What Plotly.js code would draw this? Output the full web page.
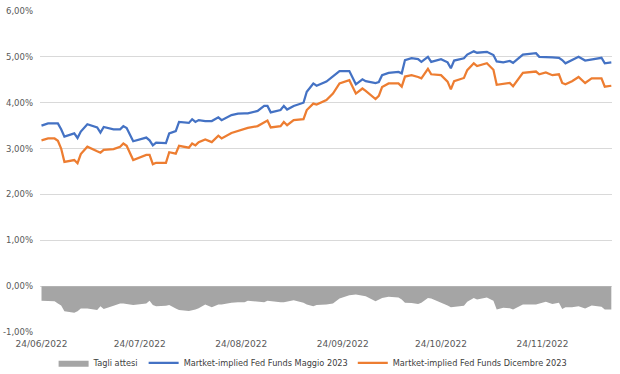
<!DOCTYPE html>
<html>
<head>
<meta charset="utf-8">
<script src="https://cdn.plot.ly/plotly-3.0.1.min.js"></script>
<style>html,body{margin:0;padding:0;background:#fff;}#chart{width:620px;height:374px;}</style>
</head>
<body>
<div id="chart"></div>
<script>
const dates = [
"2022-06-24","2022-06-26","2022-06-28","2022-06-29","2022-06-30","2022-07-01","2022-07-04","2022-07-05","2022-07-06","2022-07-08",
"2022-07-11","2022-07-12","2022-07-13","2022-07-16","2022-07-18","2022-07-19","2022-07-20","2022-07-22","2022-07-26","2022-07-27",
"2022-07-28","2022-07-29","2022-08-01","2022-08-02","2022-08-04","2022-08-05","2022-08-08","2022-08-09","2022-08-10","2022-08-11",
"2022-08-13","2022-08-15","2022-08-17","2022-08-18","2022-08-21","2022-08-23","2022-08-25","2022-08-26","2022-08-29","2022-08-31",
"2022-09-01","2022-09-02","2022-09-05","2022-09-06","2022-09-07","2022-09-09","2022-09-12","2022-09-13","2022-09-15","2022-09-16",
"2022-09-19","2022-09-21","2022-09-23","2022-09-26","2022-09-28","2022-09-30","2022-10-01","2022-10-04","2022-10-05","2022-10-06",
"2022-10-08","2022-10-11","2022-10-12","2022-10-13","2022-10-15","2022-10-17","2022-10-18","2022-10-20","2022-10-21","2022-10-24",
"2022-10-26","2022-10-27","2022-10-28","2022-10-31","2022-11-01","2022-11-03","2022-11-04","2022-11-07","2022-11-09","2022-11-10",
"2022-11-12","2022-11-14","2022-11-15","2022-11-18","2022-11-22","2022-11-23","2022-11-25","2022-11-27","2022-11-29","2022-11-30",
"2022-12-01","2022-12-03","2022-12-05","2022-12-07","2022-12-09","2022-12-12","2022-12-13","2022-12-15"
];
const fedMaggio2023 = [
3.50,3.55,3.55,3.55,3.42,3.26,3.33,3.23,3.37,3.53,
3.46,3.35,3.47,3.42,3.42,3.49,3.45,3.16,3.24,3.18,
3.07,3.13,3.12,3.33,3.38,3.58,3.56,3.64,3.58,3.62,
3.60,3.60,3.68,3.62,3.73,3.76,3.77,3.77,3.82,3.93,
3.93,3.79,3.84,3.93,3.85,3.93,4.00,4.24,4.42,4.37,
4.46,4.58,4.69,4.69,4.40,4.51,4.47,4.43,4.45,4.60,
4.65,4.67,4.64,4.93,4.97,4.95,4.89,5.00,4.89,4.95,
4.88,4.75,4.92,4.97,5.05,5.12,5.09,5.11,5.04,4.90,
4.88,4.91,4.87,5.05,5.08,5.00,5.00,4.99,4.98,4.93,
4.86,4.93,5.00,4.92,4.95,4.98,4.86,4.88
];
const fedDicembre2023 = [
3.18,3.22,3.22,3.17,3.00,2.71,2.75,2.68,2.88,3.04,
2.94,2.91,2.97,2.99,3.04,3.11,3.06,2.75,2.86,2.86,
2.66,2.69,2.69,2.92,2.89,3.06,3.02,3.11,3.07,3.14,
3.20,3.14,3.28,3.22,3.34,3.38,3.42,3.45,3.49,3.58,
3.61,3.46,3.49,3.58,3.51,3.62,3.64,3.84,3.98,3.96,
4.06,4.20,4.42,4.49,4.20,4.31,4.26,4.08,4.15,4.34,
4.42,4.42,4.35,4.57,4.60,4.56,4.53,4.74,4.62,4.60,
4.46,4.29,4.47,4.54,4.71,4.86,4.80,4.86,4.72,4.39,
4.41,4.43,4.36,4.65,4.68,4.62,4.66,4.60,4.62,4.43,
4.40,4.47,4.56,4.43,4.53,4.53,4.35,4.37
];
const tagliAttesi = [
-0.32,-0.33,-0.33,-0.38,-0.42,-0.55,-0.58,-0.55,-0.49,-0.49,
-0.52,-0.44,-0.50,-0.43,-0.38,-0.38,-0.39,-0.41,-0.38,-0.32,
-0.41,-0.44,-0.43,-0.41,-0.49,-0.52,-0.54,-0.53,-0.51,-0.48,
-0.40,-0.46,-0.40,-0.40,-0.36,-0.35,-0.35,-0.32,-0.33,-0.35,
-0.32,-0.33,-0.35,-0.35,-0.34,-0.31,-0.36,-0.40,-0.44,-0.41,
-0.40,-0.38,-0.27,-0.20,-0.18,-0.20,-0.22,-0.33,-0.30,-0.26,
-0.23,-0.25,-0.29,-0.36,-0.37,-0.39,-0.36,-0.26,-0.27,-0.35,
-0.42,-0.46,-0.45,-0.43,-0.34,-0.26,-0.29,-0.25,-0.32,-0.51,
-0.47,-0.48,-0.51,-0.40,-0.40,-0.38,-0.34,-0.39,-0.36,-0.50,
-0.46,-0.46,-0.44,-0.49,-0.42,-0.45,-0.51,-0.51
];
const xTickVals = ["2022-06-24","2022-07-24","2022-08-24","2022-09-24","2022-10-24","2022-11-24"];
const xTickText = ["24/06/2022","24/07/2022","24/08/2022","24/09/2022","24/10/2022","24/11/2022"];
const yTickVals = [-1,0,1,2,3,4,5,6];
const yTickText = ["-1,00%","0,00%","1,00%","2,00%","3,00%","4,00%","5,00%","6,00%"];

const traces = [
  {x: dates, y: tagliAttesi, name: "Tagli attesi", type: "scatter", mode: "lines",
   fill: "tozeroy", fillcolor: "#A5A5A5", line: {width: 0, color: "#A5A5A5"}},
  {x: dates, y: fedMaggio2023, name: "Martket-implied Fed Funds Maggio 2023", type: "scatter", mode: "lines",
   line: {color: "#4472C4", width: 2.25}},
  {x: dates, y: fedDicembre2023, name: "Martket-implied Fed Funds Dicembre 2023", type: "scatter", mode: "lines",
   line: {color: "#ED7D31", width: 2.25}}
];
const layout = {
  width: 620, height: 374,
  margin: {l: 40, r: 8, t: 11, b: 42, autoexpand: false},
  paper_bgcolor: "#fff", plot_bgcolor: "#fff",
  font: {family: "DejaVu Sans, sans-serif", size: 9, color: "#595959"},
  showlegend: true,
  legend: {orientation: "h", xref: "container", yref: "container", x: 0.505, xanchor: "center",
           y: 0.03, yanchor: "middle",
           font: {size: 8.2, color: "#404040"}, itemwidth: 30, traceorder: "normal"},
  xaxis: {type: "date", range: ["2022-06-23 13:00", "2022-12-15 05:00"],
          tickvals: xTickVals, ticktext: xTickText, showgrid: false, zeroline: false,
          showline: false, ticks: "", ticklabelstandoff: 5, tickfont: {size: 9, color: "#595959"}},
  yaxis: {range: [-1, 6], tickvals: yTickVals, ticktext: yTickText,
          showgrid: true, gridcolor: "#D9D9D9", gridwidth: 1, zeroline: false,
          showline: false, ticks: "", tickfont: {size: 8.5, color: "#595959"}, ticklabelstandoff: 6}
};
Plotly.newPlot("chart", traces, layout, {staticPlot: true, displayModeBar: false});
</script>
</body>
</html>
